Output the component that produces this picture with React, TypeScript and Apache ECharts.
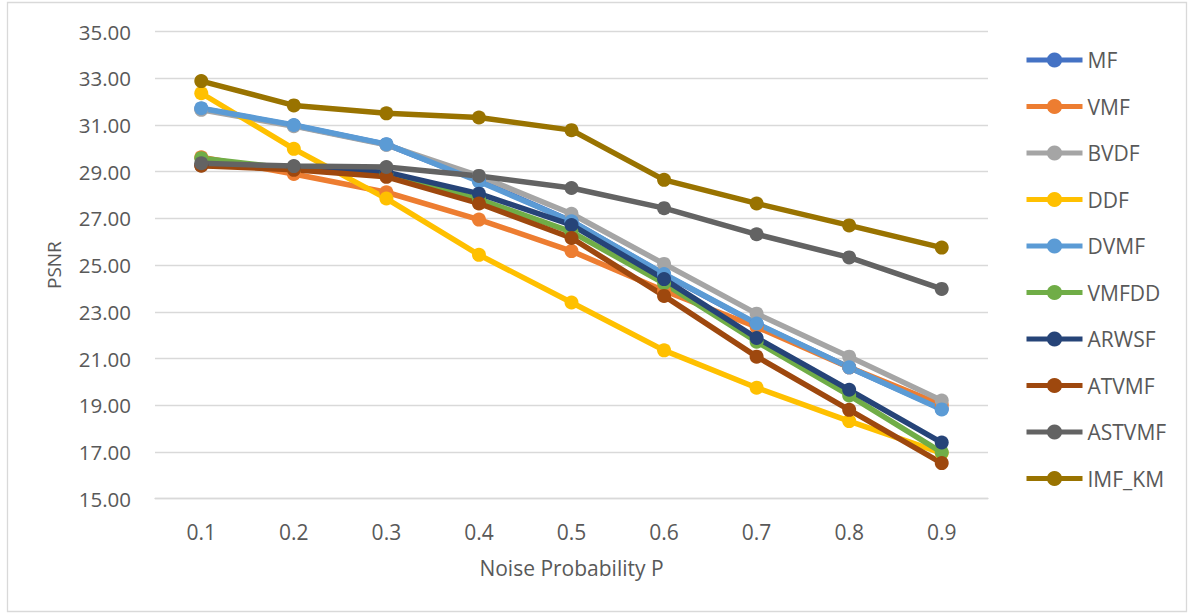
import React, { useEffect, useRef } from "react";
import * as echarts from "echarts";

const categories = ["0.1", "0.2", "0.3", "0.4", "0.5", "0.6", "0.7", "0.8", "0.9"];

const MF = [31.7, 30.98, 30.17, 28.62, 26.88, 24.6, 22.48, 20.62, 18.85];
const VMF = [29.62, 28.9, 28.12, 26.95, 25.6, 23.9, 22.35, 20.62, 19.02];
const BVDF = [31.65, 30.95, 30.15, 28.82, 27.2, 25.05, 22.92, 21.08, 19.2];
const DDF = [32.36, 29.98, 27.85, 25.44, 23.4, 21.35, 19.75, 18.32, 16.95];
const DVMF = [31.72, 31.0, 30.18, 28.58, 26.88, 24.62, 22.5, 20.62, 18.82];
const VMFDD = [29.58, 29.12, 28.92, 27.82, 26.42, 24.22, 21.72, 19.42, 16.98];
const ARWSF = [29.28, 29.16, 28.98, 28.06, 26.72, 24.4, 21.88, 19.66, 17.4];
const ATVMF = [29.26, 29.08, 28.78, 27.64, 26.16, 23.68, 21.08, 18.8, 16.52];
const ASTVMF = [29.36, 29.24, 29.2, 28.82, 28.3, 27.44, 26.32, 25.33, 23.98];
const IMF_KM = [32.88, 31.84, 31.5, 31.32, 30.78, 28.65, 27.64, 26.7, 25.75];

const seriesNames = ["MF", "VMF", "BVDF", "DDF", "DVMF", "VMFDD", "ARWSF", "ATVMF", "ASTVMF", "IMF_KM"];
const seriesValues = [MF, VMF, BVDF, DDF, DVMF, VMFDD, ARWSF, ATVMF, ASTVMF, IMF_KM];
const seriesColors = [
  "#4472C4",
  "#ED7D31",
  "#A5A5A5",
  "#FFC000",
  "#5B9BD5",
  "#70AD47",
  "#264478",
  "#9E480E",
  "#636363",
  "#997300",
];

const FONT = "'Open Sans', 'Noto Sans', sans-serif";
const FONT_SIZE = 21;
const TEXT_COLOR = "#595959";
const GRID_COLOR = "#D9D9D9";

export default function App() {
  const ref = useRef<HTMLDivElement>(null);

  useEffect(() => {
    if (!ref.current) return;
    const chart = echarts.init(ref.current, null, { renderer: "svg" });

    const series = seriesNames.map((name, i) => ({
      name,
      type: "line",
      data: seriesValues[i],
      symbol: "circle",
      symbolSize: 14,
      color: seriesColors[i],
      lineStyle: { width: 5.5, color: seriesColors[i] },
      itemStyle: { color: seriesColors[i] },
    }));

    chart.setOption({
      animation: false,
      backgroundColor: "#FFFFFF",
      textStyle: { fontFamily: FONT },
      graphic: [
        {
          type: "rect",
          shape: { x: 7.5, y: 2.5, width: 1179, height: 609 },
          style: { fill: "none", stroke: GRID_COLOR, lineWidth: 1.3 },
          silent: true,
        },
      ],
      grid: { left: 155, right: 202, top: 31.6, bottom: 116.4 },
      legend: {
        orient: "vertical",
        left: 1019,
        top: 44.5,
        itemWidth: 56,
        itemHeight: 19,
        itemGap: 25.5,
        data: seriesNames,
        lineStyle: { width: 5 },
        textStyle: { fontFamily: FONT, fontSize: FONT_SIZE, color: TEXT_COLOR },
      },
      xAxis: {
        type: "category",
        data: categories,
        boundaryGap: true,
        name: "Noise Probability P",
        nameLocation: "middle",
        nameGap: 59,
        nameTextStyle: { fontFamily: FONT, fontSize: FONT_SIZE, color: TEXT_COLOR },
        axisLine: { show: true, lineStyle: { color: GRID_COLOR, width: 1.3 } },
        axisTick: { show: false },
        axisLabel: { margin: 23, fontFamily: FONT, fontSize: FONT_SIZE, color: TEXT_COLOR },
        splitLine: { show: false },
      },
      yAxis: {
        type: "value",
        min: 15,
        max: 35,
        interval: 2,
        name: "PSNR",
        nameLocation: "middle",
        nameGap: 92,
        nameTextStyle: { fontFamily: FONT, fontSize: FONT_SIZE - 2, color: TEXT_COLOR },
        axisLine: { show: false },
        axisTick: { show: false },
        axisLabel: {
          margin: 24,
          fontFamily: FONT,
          fontSize: FONT_SIZE - 0.5,
          color: TEXT_COLOR,
          formatter: (v: number) => v.toFixed(2),
        },
        splitLine: { show: true, lineStyle: { color: GRID_COLOR, width: 1.3 } },
      },
      series,
    });

    return () => chart.dispose();
  }, []);

  return (
    <div
      ref={ref}
      style={{ position: "fixed", left: 0, top: 0, width: 1190, height: 615 }}
    />
  );
}
